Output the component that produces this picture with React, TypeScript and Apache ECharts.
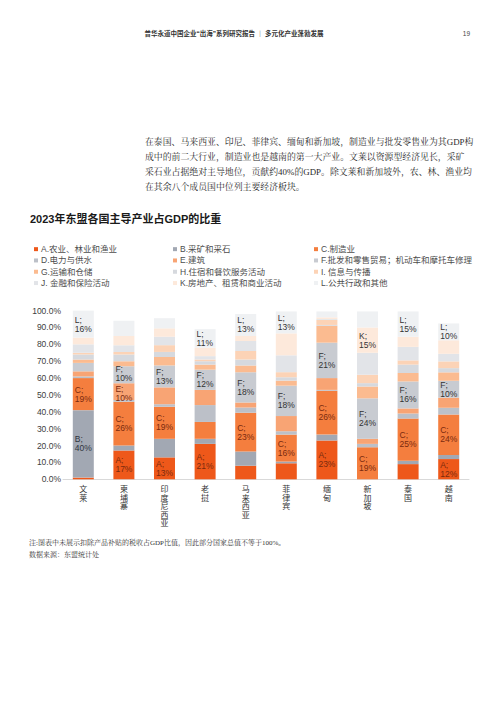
import React, { useEffect, useRef } from "react";
import * as echarts from "echarts";

const categories = ["文莱", "柬埔寨", "印度尼西亚", "老挝", "马来西亚", "菲律宾", "缅甸", "新加坡", "泰国", "越南"];

const sectorNames = [
  "A.农业、林业和渔业",
  "B.采矿和采石",
  "C.制造业",
  "D.电力与供水",
  "E.建筑",
  "F.批发和零售贸易；机动车和摩托车修理",
  "G.运输和仓储",
  "H.住宿和餐饮服务活动",
  "I. 信息与传播",
  "J. 金融和保险活动",
  "K.房地产、租赁和商业活动",
  "L.公共行政和其他",
];
const sectorLetters = ["A", "B", "C", "D", "E", "F", "G", "H", "I", "J", "K", "L"];

// share of GDP (%) per sector, in category order
const valuesA = [1, 17, 13, 21, 8, 9.5, 23, 0, 9, 12];
const valuesB = [40, 3, 11, 3, 8.5, 1, 3.5, 0, 2, 2.4];
const valuesC = [19, 26, 19, 10, 23, 16, 26, 19, 25, 24];
const valuesD = [1, 1, 1.5, 10, 3, 2, 0.5, 2, 3, 4];
const valuesE = [3, 10, 10, 9, 3, 9, 7, 3, 3, 6];
const valuesF = [5, 10, 13, 12, 18, 18, 21, 24, 16, 10];
const valuesG = [2, 3, 5, 3, 4, 3, 10, 7, 5, 5];
const valuesH = [3, 4, 3, 2, 3.5, 2, 0.5, 2, 5, 2.5];
const valuesI = [1, 1.5, 4, 1, 5, 3, 3, 5, 2.5, 4];
const valuesJ = [5, 4, 5, 2, 6, 10, 0.5, 13, 8, 4.5];
const valuesK = [4, 5.5, 5, 5, 3, 13, 1, 15, 6, 8];
const valuesL = [16, 9, 6, 11, 13, 13, 3.5, 9.5, 15, 10];

// category indices whose segment carries a data label
const labeledA = [1, 2, 3, 6, 9];
const labeledB = [0];
const labeledC = [0, 1, 2, 4, 5, 6, 7, 8, 9];
const labeledE = [1];
const labeledF = [1, 2, 3, 4, 5, 6, 7, 8, 9];
const labeledK = [7];
const labeledL = [0, 3, 4, 5, 8, 9];

const yTicks = [0, 10, 20, 30, 40, 50, 60, 70, 80, 90, 100];

const paragraphLines = [
  "在泰国、马来西亚、印尼、菲律宾、缅甸和新加坡，制造业与批发零售业为其GDP构",
  "成中的前二大行业，制造业也是越南的第一大产业。文莱以资源型经济见长，采矿",
  "采石业占据绝对主导地位，贡献约40%的GDP。除文莱和新加坡外，农、林、渔业均",
  "在其余八个成员国中位列主要经济板块。",
];
const titleText = "2023年东盟各国主导产业占GDP的比重";
const headerText = "普华永道中国企业“出海”系列研究报告 ｜ 多元化产业蓬勃发展";
const pageNumber = "19";
const noteLines = ["注:图表中未展示扣除产品补贴的税收占GDP比值，因此部分国家总值不等于100%。", "数据来源：东盟统计处"];

const allValues = [valuesA, valuesB, valuesC, valuesD, valuesE, valuesF, valuesG, valuesH, valuesI, valuesJ, valuesK, valuesL];
const allLabeled = [labeledA, labeledB, labeledC, [], labeledE, labeledF, [], [], [], [], labeledK, labeledL];

const colors = [
  "#ee581a", "#a2a8b3", "#f47e3e", "#bcc0c8", "#f8a474", "#c8cbd1",
  "#fbbb90", "#d6d9de", "#fcd3b6", "#e2e4e8", "#fde9db", "#eff1f3",
];
const labelColors = [
  "#7a2a0e", "#2f3540", "#7a2a0e", "#333", "#7a2a0e", "#333",
  "#333", "#333", "#333", "#333", "#333", "#333",
];

const SANS = "'Liberation Sans', Arial, 'Noto Sans CJK SC', sans-serif";
const SERIF = "'Liberation Serif', 'Noto Serif CJK SC', 'Noto Sans CJK SC', serif";

export default function App() {
  const ref = useRef<HTMLDivElement>(null);
  useEffect(() => {
    if (!ref.current) return;
    const chart = echarts.init(ref.current, null, { renderer: "svg" });

    const series = allValues.map((vals, si) => ({
      name: sectorNames[si],
      type: "bar",
      stack: "total",
      barWidth: 21,
      itemStyle: { color: colors[si] },
      data: vals.map((v, ci) => {
        const show = allLabeled[si].includes(ci);
        // nudge the two touching labels in the Cambodia bar apart
        const offset = ci === 1 && si === 5 ? [0, -1.5] : ci === 1 && si === 4 ? [0, 1.5] : [0, 0];
        return { value: v, label: { show, offset } };
      }),
      label: {
        show: false,
        position: "inside",
        fontFamily: SANS,
        fontSize: 8.5,
        color: labelColors[si],
        formatter: (p: any) => `{t|${sectorLetters[si]};}\n{t|${Math.round(p.value)}%}`,
        rich: {
          t: { width: 17, align: "left", fontSize: 8.5, lineHeight: 9, color: labelColors[si], fontFamily: SANS },
        },
      },
    }));

    const legendCol = (idx: number[], left: number) => ({
      orient: "vertical",
      left,
      top: 238.5,
      itemWidth: 4,
      itemHeight: 4,
      itemGap: 0,
      icon: "rect",
      selectedMode: false,
      data: idx.map((i) => sectorNames[i]),
      textStyle: { fontFamily: SANS, fontSize: 8.5, lineHeight: 11.3, color: "#4d4d4d", padding: [0, 0, 0, -2] },
    });

    const paraGraphics = paragraphLines.map((t, i) => ({
      type: "text",
      style: { text: t, x: 145, y: 141.5 + i * 15.2, font: `8.9px ${SERIF}`, fill: "#2b2b2b", verticalAlign: "middle" },
    }));
    const noteGraphics = noteLines.map((t, i) => ({
      type: "text",
      style: { text: t, x: 29, y: 543 + i * 11.5, font: `7px ${SERIF}`, fill: "#333", verticalAlign: "middle" },
    }));

    chart.setOption({
      animation: false,
      backgroundColor: "#ffffff",
      grid: { left: 63, top: 310.6, width: 406, height: 168.7, containLabel: false },
      xAxis: {
        type: "category",
        data: categories,
        axisTick: { show: false },
        axisLine: { lineStyle: { color: "#d9d9d9", width: 1 } },
        axisLabel: {
          margin: 6,
          fontFamily: SANS,
          fontSize: 8,
          lineHeight: 8.5,
          color: "#333",
          verticalAlign: "top",
          formatter: (v: string) => v.split("").join("\n"),
        },
      },
      yAxis: {
        type: "value",
        min: yTicks[0],
        max: yTicks[yTicks.length - 1],
        interval: 10,
        axisLine: { show: false },
        axisTick: { show: false },
        splitLine: { show: false },
        axisLabel: {
          margin: 2,
          fontFamily: SANS,
          fontSize: 8.5,
          color: "#404040",
          formatter: (v: number) => `${v.toFixed(1)}%`,
        },
      },
      legend: [
        legendCol([0, 3, 6, 9], 29),
        legendCol([1, 4, 7, 10], 168),
        legendCol([2, 5, 8, 11], 309),
      ],
      graphic: [
        {
          type: "text",
          style: { text: headerText, x: 234, y: 33, font: `bold 6.5px ${SANS}`, fill: "#333", align: "center", verticalAlign: "middle" },
        },
        {
          type: "text",
          style: { text: pageNumber, x: 470, y: 33, font: `6.5px ${SANS}`, fill: "#444", align: "right", verticalAlign: "middle" },
        },
        ...paraGraphics,
        {
          type: "text",
          style: { text: titleText, x: 30, y: 219, font: `bold 11px ${SANS}`, fill: "#1a1a1a", verticalAlign: "middle" },
        },
        ...noteGraphics,
      ],
      series,
    });
    return () => chart.dispose();
  }, []);
  return (
    <div
      ref={ref}
      style={{ position: "absolute", left: 0, top: 0, width: 500, height: 707, background: "#fff" }}
    />
  );
}
